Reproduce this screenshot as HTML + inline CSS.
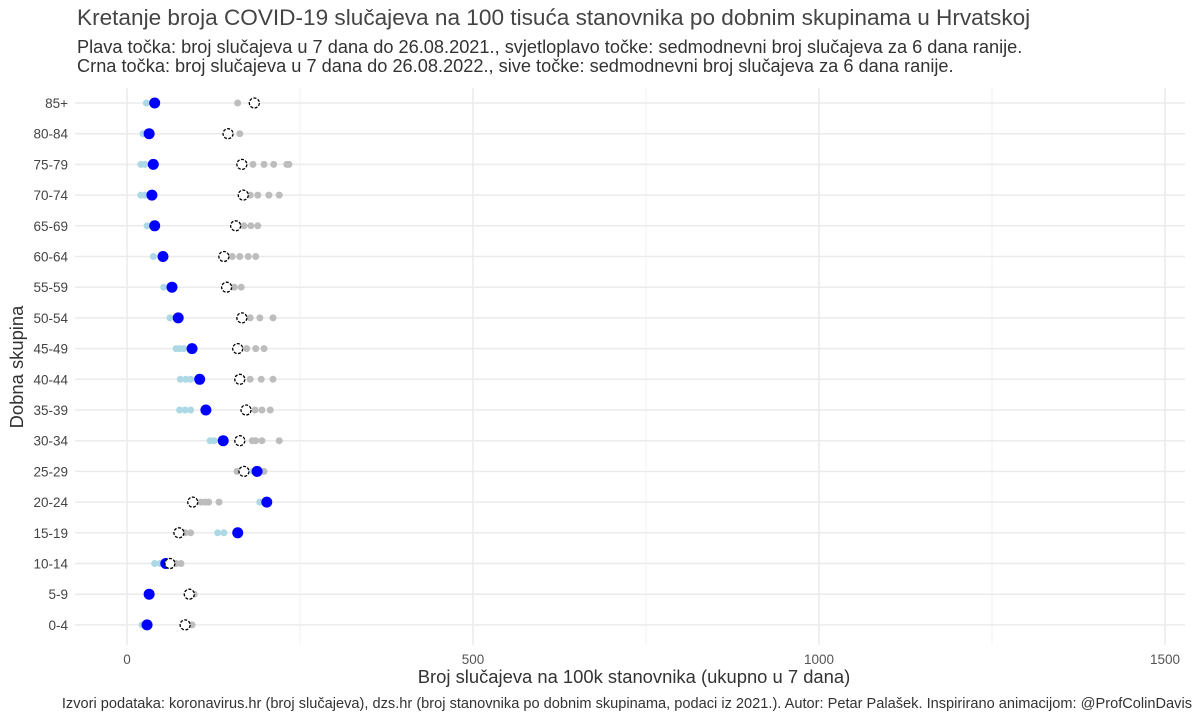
<!DOCTYPE html>
<html><head><meta charset="utf-8"><style>
body{margin:0;background:#fff;}
svg text{font-family:"Liberation Sans",sans-serif;}
</style></head><body>
<svg id="chart" width="1200" height="719" xmlns="http://www.w3.org/2000/svg">
<text x="77" y="25" font-size="22.6" fill="#444">Kretanje broja COVID-19 slučajeva na 100 tisuća stanovnika po dobnim skupinama u Hrvatskoj</text>
<text x="77" y="53" font-size="18.2" fill="#333">Plava točka: broj slučajeva u 7 dana do 26.08.2021., svjetloplavo točke: sedmodnevni broj slučajeva za 6 dana ranije.</text>
<text x="77" y="72" font-size="18.2" fill="#333">Crna točka: broj slučajeva u 7 dana do 26.08.2022., sive točke: sedmodnevni broj slučajeva za 6 dana ranije.</text>
<g id="grid"></g><g id="marks"></g><g id="labels"></g>
<text x="634" y="683" font-size="18.4" fill="#333" text-anchor="middle">Broj slučajeva na 100k stanovnika (ukupno u 7 dana)</text>
<text transform="translate(23,367) rotate(-90)" font-size="18.4" fill="#333" text-anchor="middle">Dobna skupina</text>
<text x="1192" y="708" font-size="14.6" fill="#333" text-anchor="end">Izvori podataka: koronavirus.hr (broj slučajeva), dzs.hr (broj stanovnika po dobnim skupinama, podaci iz 2021.). Autor: Petar Palašek. Inspirirano animacijom: @ProfColinDavis</text>
</svg>
<script>
const categories=["85+","80-84","75-79","70-74","65-69","60-64","55-59","50-54","45-49","40-44","35-39","30-34","25-29","20-24","15-19","10-14","5-9","0-4"];
const blue2021=[40,32,38,36,40,52,65,74,94,105,114,139,188,202,160,56,32,29];
const lightblue2021=[[28],[23],[20,26],[20,26],[29],[38],[53],[62],[71,76,82],[77,85,92],[76,84,92],[120,126],[182],[192],[131,140],[40,48],[],[22]];
const black2022=[184,146,166,168,157,140,144,166,160,163,172,163,169,95,75,62,90,84];
const grey2022=[[160],[163],[182,198,212,231,234],[178,189,205,220],[169,179,189],[152,163,175,186],[155,165],[178,192,211],[173,186,198],[178,194,211],[185,195,207],[181,186,195,220],[159,185,198],[107,113,118,133],[84,92],[71,78],[97],[94]];
const xTicks=[0,500,1000,1500];
const xMinor=[250,750,1250];
const NS="http://www.w3.org/2000/svg";
const x=v=>127+v*0.692;
const y=i=>103+i*30.7;
function mk(tag,attrs,parent){const e=document.createElementNS(NS,tag);for(const k in attrs)e.setAttribute(k,attrs[k]);document.getElementById(parent).appendChild(e);return e;}
xMinor.forEach(t=>{const l=mk('line',{x1:x(t),x2:x(t),y1:88,y2:645,stroke:'#f2f2f2','stroke-width':1},'grid');

});
xTicks.forEach(t=>{const l=mk('line',{x1:x(t),x2:x(t),y1:88,y2:645,stroke:'#ebebeb','stroke-width':1.5},'grid');


const tx=mk('text',{x:x(t),y:664,'font-size':13.5,fill:'#555','text-anchor':'middle'},'labels');tx.textContent=t;

});
categories.forEach((c,i)=>{const l=mk('line',{x1:75,x2:1185,y1:y(i),y2:y(i),stroke:'#ebebeb','stroke-width':1.5},'grid');


const tx=mk('text',{x:68,y:y(i)+5,'font-size':13.5,fill:'#444','text-anchor':'end'},'labels');tx.textContent=c;


grey2022[i].forEach(v=>{const p=mk('circle',{cx:x(v),cy:y(i),r:3.5,fill:'#bdbdbd'},'marks');

});
lightblue2021[i].forEach(v=>{const p=mk('circle',{cx:x(v),cy:y(i),r:3.5,fill:'#add8e6'},'marks');

});
const b=mk('circle',{cx:x(blue2021[i]),cy:y(i),r:5.5,fill:'#0000ff'},'marks');


const k=mk('circle',{cx:x(black2022[i]),cy:y(i),r:5,fill:'#fff',stroke:'#000','stroke-width':1.3,'stroke-dasharray':'3 1.5'},'marks');

});
</script>
</body></html>
